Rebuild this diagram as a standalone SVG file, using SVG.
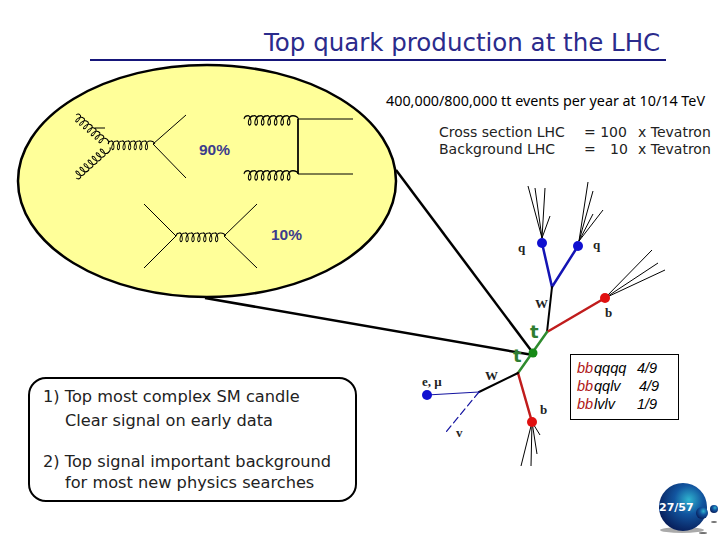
<svg xmlns="http://www.w3.org/2000/svg" xmlns:xlink="http://www.w3.org/1999/xlink" width="720" height="540" viewBox="0 0 720 540">
<style>
text{font-family:"DejaVu Sans",Verdana,sans-serif;fill:#000}
.f{fill:none;stroke:#000;stroke-width:1}
.glu{fill:none;stroke:#000;stroke-width:1}
.pct{font-family:"Liberation Sans",Arial,sans-serif;font-weight:bold;font-size:15.500px;fill:#3c3c8c}
.body{font-size:16.200px;fill:#222}
.cs{font-size:14px;fill:#222}
.ser{font-family:"Liberation Serif",serif;font-size:13px;font-weight:bold;fill:#222}
.top{font-family:"DejaVu Sans",sans-serif;font-weight:bold;font-size:18px;fill:#2e7d32}
.br{font-family:"Liberation Sans",Arial,sans-serif;font-size:14.500px;font-style:italic;fill:#000}
.c{fill:none;stroke-linecap:round}
</style>
<defs>
<path id="gl" class="glu" d="M0 0c.5-2 2-2.500 3.500-2.500c3-.5 4.500 6 2.500 7c-3 1-2-7 4-7c3-.5 4.500 6 2.500 7c-3 1-2-7 4-7c3-.5 4.500 6 2.500 7c-3 1-2-7 4-7c3-.5 4.500 6 2.500 7c-3 1-2-7 4-7c3-.5 4.500 6 2.500 7c-3 1-2-7 4-7c3-.5 4.500 6 2.500 7c-3 1-2-7 4-7c3-.5 4.500 6 2.500 7c-3 1-2-7 4-7c2.500 0 4.500 .5 5.500 2.500"/>
<radialGradient id="sph" cx="0.62" cy="0.35" r="0.75">
<stop offset="0" stop-color="#2fb4cf"/><stop offset="0.4" stop-color="#12559f"/><stop offset="1" stop-color="#06154f"/>
</radialGradient>
</defs>

<g id="title">
<text x="264" y="51" font-size="24.500" style="fill:#2b2b8c">Top quark production at the LHC</text>
<line x1="90" y1="60" x2="666" y2="60" stroke="#16167a" stroke-width="2"/>
</g>

<g id="connectors">
<line x1="396" y1="170" x2="533" y2="353" stroke="#000" stroke-width="2.500"/>
<line x1="205" y1="298" x2="533" y2="355" stroke="#000" stroke-width="2.500"/>
</g>

<g id="production-ellipse">
<ellipse cx="207" cy="181" rx="189" ry="116" fill="#ffff99" stroke="#000" stroke-width="2.500"/>
<use xlink:href="#gl" transform="translate(76 115) rotate(42) scale(.8 1.1)"/>
<use xlink:href="#gl" transform="translate(76 178) rotate(-42) scale(.84 -1.1)"/>
<line x1="95" y1="128" x2="105" y2="128" class="f"/>
<use xlink:href="#gl" transform="translate(108 144) scale(.86 1.2)"/>
<path class="f" d="M186 115L153 144L186 178"/>
<use xlink:href="#gl" transform="translate(244 119) scale(1 1.3)"/>
<use xlink:href="#gl" transform="translate(244 174) scale(1 1.3)"/>
<path d="M353 119H298V174H353" fill="none" stroke="#000" stroke-width="1"/>
<line x1="298" y1="119" x2="298" y2="174" stroke="#000" stroke-width="1.500"/>
<path class="f" d="M144 204L176 236L144 268"/>
<use xlink:href="#gl" transform="translate(176 236) scale(.91 1.2)"/>
<path class="f" d="M257 204L224 236L257 268"/>
<text class="pct" x="199" y="155">90%</text>
<text class="pct" x="271" y="240">10%</text>
</g>

<g id="rates">
<text x="386" y="106" font-size="13.500" style="font-family:'Noto Sans',sans-serif" fill="#111" textLength="319" lengthAdjust="spacingAndGlyphs">400,000/800,000 tt events per year at 10/14 TeV</text>
<text class="cs" x="439" y="137">Cross section LHC</text>
<text class="cs" x="439" y="154">Background LHC</text>
<text class="cs" x="584" y="137">= 100</text>
<text class="cs" x="584" y="154">=</text>
<text class="cs" x="610" y="154">10</text>
<text class="cs" x="638" y="137">x Tevatron</text>
<text class="cs" x="638" y="154">x Tevatron</text>
</g>

<g id="event-tree">
<g class="f">
<path d="M528 186L542 238M535 188L542 238M545 188L542 238M550 216L542 238"/>
<path d="M588 182L579 241M593 191L579 241M593 214L579 241M603 210L579 241"/>
<path d="M652 250L605 298M658 263L605 298M665 270L605 298"/>
<path d="M521 466L532 422M531 466L532 422M537 454L532 422M540 435L532 422"/>
</g>
<path class="c" stroke="#1414b4" stroke-width="2.500" d="M542 243L552 287L578 246"/>
<path class="c" stroke="#000" stroke-width="2" d="M552 287L547 332"/>
<path class="c" stroke="#c01c1c" stroke-width="2.500" d="M547 332L605 298"/>
<path class="c" stroke="#2e8b2e" stroke-width="2.500" d="M547 332L518 373"/>
<path class="c" stroke="#c01c1c" stroke-width="2.500" d="M518 373L532 422"/>
<path class="c" stroke="#000" stroke-width="2" d="M518 373L479 392"/>
<path class="c" stroke="#1414a0" stroke-width="1.200" d="M479 392L427 395"/>
<path class="c" stroke="#1414a0" stroke-width="1.200" stroke-dasharray="7 4" d="M479 392L446 432"/>
<circle cx="542" cy="243" r="5" fill="#1010d0"/>
<circle cx="578" cy="246" r="5" fill="#1010d0"/>
<circle cx="605" cy="298" r="5" fill="#e01010"/>
<circle cx="533" cy="353" r="4.500" fill="#168a16"/>
<circle cx="532" cy="422" r="5" fill="#e01010"/>
<circle cx="427" cy="395" r="5" fill="#1010d0"/>
<text class="ser" x="518" y="252">q</text>
<text class="ser" x="593" y="249">q</text>
<text class="ser" x="535" y="308">W</text>
<text class="ser" x="605" y="317">b</text>
<text class="ser" x="422" y="386">e, μ</text>
<text class="ser" x="485" y="380">W</text>
<text class="ser" x="540" y="414">b</text>
<text class="ser" x="456" y="437">v</text>
<text class="top" x="530" y="338">t</text>
<text class="top" x="513" y="362">t</text>
</g>

<g id="branching-box">
<rect x="570.500" y="354.500" width="108" height="65" fill="#fff" stroke="#000" stroke-width="1"/>
<text class="br" x="577" y="373" style="fill:#b01818">bb</text><text class="br" x="594" y="373">qqqq</text><text class="br" x="637" y="373">4/9</text>
<text class="br" x="577" y="391" style="fill:#b01818">bb</text><text class="br" x="594" y="391">qqlv</text><text class="br" x="639" y="391">4/9</text>
<text class="br" x="577" y="409" style="fill:#b01818">bb</text><text class="br" x="594" y="409">lvlv</text><text class="br" x="637" y="409">1/9</text>
</g>

<g id="notes">
<rect x="29" y="378" width="327" height="123" rx="17" fill="#fff" stroke="#000" stroke-width="2"/>
<text class="body" x="43" y="402">1) Top most complex SM candle</text>
<text class="body" x="65" y="426">Clear signal on early data</text>
<text class="body" x="43" y="467">2) Top signal important background</text>
<text class="body" x="65" y="488">for most new physics searches</text>
</g>

<g id="page-badge">
<ellipse cx="682" cy="530" rx="22" ry="3" fill="#555" opacity=".5"/>
<ellipse cx="703" cy="533" rx="4" ry="1" fill="#333" opacity=".7"/>
<ellipse cx="714" cy="522" rx="3" ry="1" fill="#333" opacity=".7"/>
<circle cx="683" cy="507" r="24" fill="url(#sph)"/>
<circle cx="702" cy="513" r="6" fill="url(#sph)"/>
<circle cx="714" cy="509" r="4" fill="url(#sph)"/>
<text x="659" y="511" font-size="11" font-weight="bold" style="fill:#fff">27/57</text>
</g>
</svg>
